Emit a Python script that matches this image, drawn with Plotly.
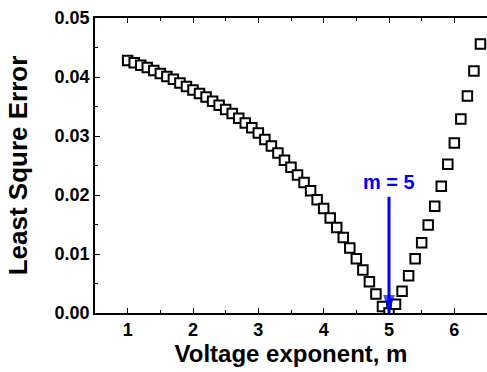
import plotly.graph_objects as go

m_values = [1.0, 1.1, 1.2, 1.3, 1.4, 1.5, 1.6, 1.7, 1.8, 1.9,
            2.0, 2.1, 2.2, 2.3, 2.4, 2.5, 2.6, 2.7, 2.8, 2.9,
            3.0, 3.1, 3.2, 3.3, 3.4, 3.5, 3.6, 3.7, 3.8, 3.9,
            4.0, 4.1, 4.2, 4.3, 4.4, 4.5, 4.6, 4.7, 4.8, 4.9,
            5.0, 5.1, 5.2, 5.3, 5.4, 5.5, 5.6, 5.7, 5.8, 5.9,
            6.0, 6.1, 6.2, 6.3, 6.4, 6.5]
lse_values = [0.0428, 0.0424, 0.0420, 0.0416, 0.0411, 0.0406, 0.0401, 0.0396, 0.0390, 0.0384,
              0.0378, 0.0372, 0.0366, 0.0359, 0.0352, 0.0345, 0.0338, 0.0330, 0.0322, 0.0314,
              0.0305, 0.0294, 0.0283, 0.0271, 0.0259, 0.0247, 0.0234, 0.0221, 0.0207, 0.0192,
              0.0177, 0.0161, 0.0145, 0.0128, 0.0110, 0.0092, 0.0073, 0.0053, 0.0032, 0.0011,
              0.0000, 0.0015, 0.0037, 0.0063, 0.0092, 0.0119, 0.0149, 0.0181, 0.0215, 0.0252,
              0.0288, 0.0329, 0.0368, 0.0410, 0.0456, 0.0503]

x_ticks = [1, 2, 3, 4, 5, 6]
y_ticks = [0.00, 0.01, 0.02, 0.03, 0.04, 0.05]
y_tick_labels = ["0.00", "0.01", "0.02", "0.03", "0.04", "0.05"]

best_m = 5
arrow_y = [0.0197, 0.0]
label_y = 0.0222
label_text = "m = 5"

FONT = "Liberation Sans, Arial, sans-serif"
BLUE = "#0000ff"

fig = go.Figure()
fig.add_trace(go.Scatter(
    x=m_values, y=lse_values, mode="markers",
    marker=dict(symbol="square", size=9.5, color="white",
                line=dict(color="black", width=2)),
    showlegend=False, cliponaxis=True,
))

# blue arrow pointing at the minimum
fig.add_trace(go.Scatter(
    x=[best_m, best_m], y=arrow_y, mode="lines+markers",
    line=dict(color=BLUE, width=3),
    marker=dict(symbol="arrow", size=[0, 19], angle=180, color=BLUE,
                line=dict(width=0)),
    showlegend=False, cliponaxis=False, hoverinfo="skip",
))

fig.add_annotation(x=best_m, y=label_y, xref="x", yref="y",
                   text=label_text, showarrow=False,
                   font=dict(family=FONT, size=20, color=BLUE, weight="bold"))

axis_common = dict(
    showgrid=False, zeroline=False, showline=True, linecolor="black",
    linewidth=1.5, ticks="inside", ticklen=5, tickwidth=1.2, tickcolor="black",
    tickfont=dict(family=FONT, size=18, color="black", weight="bold"),
)

fig.update_xaxes(
    range=[0.5, 6.5], tickvals=x_ticks, mirror="allticks",
    minor=dict(dtick=0.5, tick0=0.5, ticks="inside", ticklen=3, tickcolor="black", tickwidth=1),
    title=dict(text="Voltage exponent, m", standoff=6,
               font=dict(family=FONT, size=24, color="black", weight="bold")),
    **axis_common,
)
fig.update_yaxes(
    range=[0, 0.05], tickvals=y_ticks, ticktext=y_tick_labels,
    minor=dict(dtick=0.005, tick0=0, ticks="inside", ticklen=3, tickcolor="black", tickwidth=1),
    title=dict(text="Least Squre Error", standoff=20,
               font=dict(family=FONT, size=26, color="black", weight="bold")),
    **axis_common,
)

fig.update_layout(
    width=487, height=372,
    margin=dict(l=95, r=0, t=18, b=59),
    paper_bgcolor="white", plot_bgcolor="white",
)

fig.write_html("out.html")
